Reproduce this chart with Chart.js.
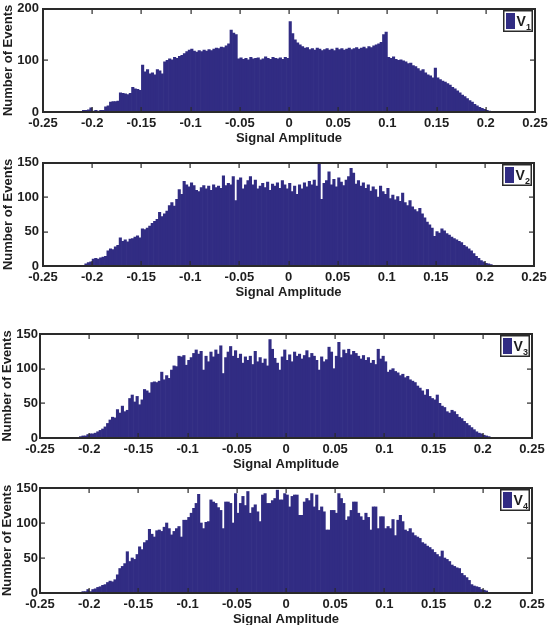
<!DOCTYPE html>
<html>
<head>
<meta charset="utf-8">
<script src="https://cdn.jsdelivr.net/npm/chart.js@4.4.0/dist/chart.umd.min.js"></script>
<style>
  html, body { margin: 0; padding: 0; background: #fff; }
  #wrap { position: relative; width: 552px; height: 625px; overflow: hidden; }
  #wrap canvas { position: absolute; left: 0; }
</style>
</head>
<body>
<div id="wrap">
  <canvas id="c1" width="552" height="149"></canvas>
  <canvas id="c2" width="552" height="149"></canvas>
  <canvas id="c3" width="552" height="148"></canvas>
  <canvas id="c4" width="552" height="149"></canvas>
</div>
<script>
// histogram bins: 170 bins of width 0.0025 starting at -0.2125
const binStart = -0.2125;
const binWidth = 0.0025;

const xTicks = [-0.25, -0.2, -0.15, -0.1, -0.05, 0, 0.05, 0.1, 0.15, 0.2, 0.25];
const yTicks200 = [0, 100, 200];
const yTicks150 = [0, 50, 100, 150];

// counts per bin
const v1 = [
  1, 3, 3, 4, 8, 2, 3, 2, 3, 3,
  10, 12, 19, 20, 20, 21, 37, 36, 35, 34,
  36, 48, 45, 44, 42, 91, 78, 82, 74, 76,
  72, 82, 80, 74, 97, 100, 103, 101, 106, 104,
  108, 110, 113, 117, 120, 122, 118, 116, 119, 117,
  120, 118, 121, 119, 122, 124, 123, 126, 125, 128,
  132, 159, 153, 150, 103, 105, 102, 104, 101, 106,
  103, 104, 105, 101, 103, 107, 104, 102, 106, 104,
  103, 105, 102, 106, 104, 175, 152, 140, 134, 130,
  127, 124, 125, 121, 123, 120, 124, 122, 119, 121,
  123, 120, 122, 119, 124, 121, 123, 120, 122, 124,
  121, 123, 125, 122, 124, 126, 123, 127, 125, 128,
  130, 132, 135, 150, 155, 106, 104, 107, 102, 100,
  101, 99, 97, 94, 95, 90, 88, 84, 80, 82,
  76, 72, 70, 66, 85, 66, 63, 60, 58, 55,
  52, 48, 45, 41, 37, 33, 30, 26, 22, 19,
  15, 12, 9, 7, 5, 3, 2, 1, 1, 0
];
const v2 = [
  0, 0, 3, 5, 6, 10, 11, 10, 12, 13,
  14, 22, 25, 24, 28, 30, 41, 36, 38, 35,
  39, 40, 42, 44, 41, 54, 53, 55, 58, 62,
  65, 68, 78, 72, 76, 80, 88, 92, 87, 97,
  111, 104, 123, 118, 115, 121, 117, 110, 108, 114,
  117, 112, 116, 110, 118, 114, 116, 113, 131, 117,
  120, 118, 130, 95, 125, 128, 112, 118, 124, 130,
  118, 125, 112, 116, 120, 114, 122, 110, 119, 116,
  121, 113, 124, 118, 112, 120, 108, 116, 104, 118,
  112, 121, 115, 123, 118, 125, 116, 150, 97, 120,
  124, 137, 118, 126, 115, 128, 122, 117, 125, 130,
  142, 135, 119, 124, 116, 121, 113, 118, 109, 115,
  111, 100, 116, 108, 104, 113, 98, 103, 96, 101,
  94, 106, 92, 88, 95, 86, 82, 79, 84, 76,
  70, 64, 60, 55, 43, 50, 48, 54, 51, 47,
  45, 42, 40, 38, 36, 34, 30, 28, 25, 22,
  18, 14, 11, 8, 6, 4, 3, 2, 1, 0
];
const v3 = [
  1, 2, 3, 3, 5, 6, 6, 7, 9, 11,
  13, 16, 21, 26, 30, 29, 41, 36, 46, 38,
  40, 57, 62, 52, 60, 48, 55, 70, 68, 65,
  80, 81, 80, 82, 95, 84, 90, 86, 98, 104,
  103, 118, 117, 119, 105, 112, 116, 122, 127, 121,
  125, 98, 118, 110, 124, 117, 127, 121, 133, 93,
  116, 124, 132, 118, 126, 115, 121, 108, 117, 112,
  118, 106, 125, 110, 116, 108, 114, 104, 142, 128,
  115, 108, 98, 117, 127, 112, 120, 110, 124, 118,
  121, 114, 119, 126, 116, 122, 118, 112, 98, 117,
  110, 113, 131, 124, 100, 118, 138, 116, 127, 122,
  128, 120, 125, 122, 118, 114, 119, 112, 116, 108,
  112, 106, 128, 114, 118, 110, 95, 98, 100, 96,
  94, 90, 92, 87, 89, 84, 82, 80, 75, 72,
  68, 62, 70, 60, 57, 55, 62, 50, 46, 44,
  38, 36, 40, 38, 34, 30, 28, 24, 21, 18,
  15, 12, 9, 7, 6, 4, 3, 2, 1, 0
];
const v4 = [
  0, 0, 2, 2, 5, 2, 5, 6, 8, 9,
  11, 12, 15, 17, 16, 19, 26, 35, 38, 42,
  59, 45, 50, 48, 55, 66, 62, 72, 75, 91,
  84, 80, 89, 90, 88, 94, 100, 92, 83, 88,
  92, 95, 80, 104, 104, 108, 114, 121, 128, 141,
  100, 92, 101, 102, 133, 130, 128, 122, 118, 92,
  130, 130, 128, 100, 142, 114, 128, 138, 125, 145,
  114, 122, 126, 116, 102, 140, 142, 128, 128, 132,
  135, 147, 133, 133, 142, 140, 123, 138, 140, 140,
  111, 111, 130, 135, 132, 142, 123, 140, 118, 123,
  116, 90, 90, 118, 118, 114, 142, 135, 128, 104,
  109, 118, 130, 130, 114, 109, 104, 114, 108, 90,
  123, 123, 92, 109, 109, 92, 95, 92, 105, 82,
  104, 111, 102, 90, 88, 92, 86, 82, 80, 78,
  72, 70, 67, 65, 62, 58, 55, 52, 60, 50,
  48, 45, 40, 38, 36, 35, 28, 25, 22, 18,
  12, 10, 9, 8, 5, 4, 3, 1, 1, 0
];

const barColor = '#312c83';
const textColor = '#1e1e1e';
const frameColor = '#2a2a2a';
const tickFont = { family: "'Liberation Sans', Arial, sans-serif", size: 13, weight: 'bold' };
const titleFont = { family: "'Liberation Sans', Arial, sans-serif", size: 13, weight: 'bold' };

const binCenters = v1.map((_, i) => +(binStart + binWidth * (i + 0.5)).toFixed(5));

// plot-area positions of the four panels in the page
const panels = [
  { id: 'c1', data: v1, sub: '1', yMax: 200, yTicks: yTicks200, left: 43, right: 535, top: 7, yPad: 4, yTitlePad: 1 },
  { id: 'c2', data: v2, sub: '2', yMax: 150, yTicks: yTicks150, left: 43, right: 534, top: 161, yPad: 4, yTitlePad: 1 },
  { id: 'c3', data: v3, sub: '3', yMax: 150, yTicks: yTicks150, left: 40, right: 532, top: 334, yPad: 2, yTitlePad: 0 },
  { id: 'c4', data: v4, sub: '4', yMax: 150, yTicks: yTicks150, left: 40, right: 532, top: 488, yPad: 2, yTitlePad: 0 }
];

// MATLAB-like box, inward ticks and legend (drawn with filled rects)
const boxPlugin = {
  id: 'matlabBox',
  afterDraw(chart, args, opts) {
    const { ctx, chartArea: a, scales: { x, y } } = chart;
    const L = Math.round(a.left), R = Math.round(a.right);
    const T = Math.round(a.top), B = Math.round(a.bottom);
    ctx.save();
    ctx.fillStyle = frameColor;
    // inward tick marks
    x.ticks.forEach(t => {
      const px = Math.round(x.getPixelForValue(t.value));
      ctx.fillRect(px - 0.5, T, 1.2, 5);
      ctx.fillRect(px - 0.5, B - 5, 1.2, 5);
    });
    y.ticks.forEach(t => {
      const py = Math.round(y.getPixelForValue(t.value));
      ctx.fillRect(L, py - 0.5, 5, 1.2);
      ctx.fillRect(R - 5, py - 0.5, 5, 1.2);
    });
    // box
    ctx.fillRect(L - 1, T - 1, R - L + 2, 2);
    ctx.fillRect(L - 1, B - 1, R - L + 2, 2);
    ctx.fillRect(L - 1, T - 1, 2, B - T + 2);
    ctx.fillRect(R - 1, T - 1, 2, B - T + 2);

    // legend
    const lx = R - 32, ly = T + 1;
    ctx.fillRect(lx, ly, 30, 22);
    ctx.fillStyle = '#fff';
    ctx.fillRect(lx + 1.5, ly + 1.5, 27, 19);
    ctx.fillStyle = chart.data.datasets[0].backgroundColor;
    ctx.fillRect(lx + 3, ly + 3, 9, 16);
    ctx.fillStyle = textColor;
    ctx.textBaseline = 'alphabetic';
    ctx.font = "bold 14px 'Liberation Sans', Arial, sans-serif";
    ctx.fillText('V', lx + 13.5, ly + 15.5);
    ctx.font = "bold 9px 'Liberation Sans', Arial, sans-serif";
    ctx.fillText(opts.sub, lx + 23, ly + 20);
    ctx.restore();
  }
};

panels.forEach(p => {
  const canvas = document.getElementById(p.id);
  canvas.style.top = (p.top - 10) + 'px';
  new Chart(canvas, {
    type: 'bar',
    data: {
      datasets: [{
        label: 'V' + p.sub,
        data: binCenters.map((c, i) => ({ x: c, y: p.data[i] })),
        backgroundColor: barColor,
        borderWidth: 0,
        barPercentage: 1,
        categoryPercentage: 1,
        grouped: false
      }]
    },
    options: {
      responsive: false,
      animation: false,
      events: [],
      layout: { padding: { left: 0, right: 552 - p.right, top: 10, bottom: 0 } },
      plugins: {
        legend: { display: false },
        tooltip: { enabled: false },
        matlabBox: { sub: p.sub }
      },
      scales: {
        x: {
          type: 'linear',
          min: -0.25,
          max: 0.25,
          offset: false,
          grid: { display: false, drawTicks: false },
          border: { display: false },
          afterBuildTicks: ax => { ax.ticks = xTicks.map(v => ({ value: v })); },
          afterFit: ax => { ax.height = 34; },
          ticks: {
            autoSkip: false, maxRotation: 0, padding: 4,
            color: textColor, font: tickFont,
            callback: v => String(+v.toFixed(2))
          },
          title: { display: true, text: 'Signal Amplitude', color: textColor, font: titleFont, padding: 0 }
        },
        y: {
          min: 0,
          max: p.yMax,
          grid: { display: false, drawTicks: false },
          border: { display: false },
          afterBuildTicks: ax => { ax.ticks = p.yTicks.map(v => ({ value: v })); },
          afterFit: ax => { ax.width = p.left; },
          ticks: { padding: p.yPad, color: textColor, font: tickFont },
          title: { display: true, text: 'Number of Events', color: textColor, font: titleFont, padding: { top: p.yTitlePad, bottom: 0 } }
        }
      }
    },
    plugins: [boxPlugin]
  });
});
</script>
</body>
</html>
